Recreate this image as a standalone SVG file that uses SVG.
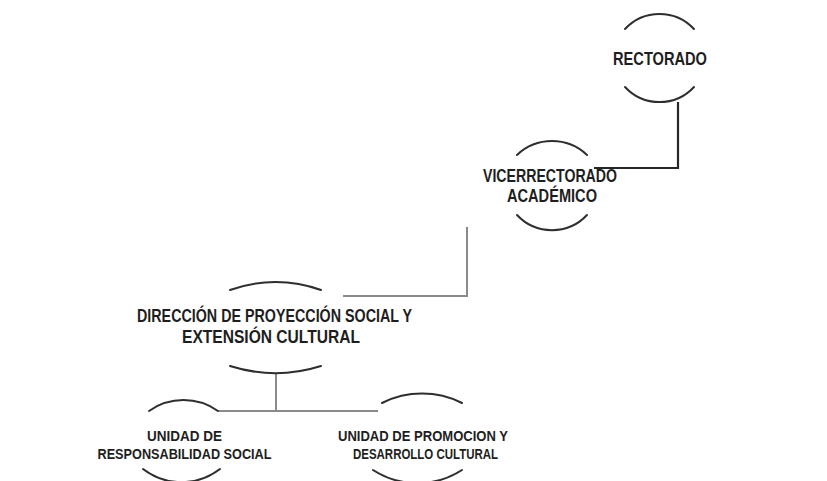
<svg xmlns="http://www.w3.org/2000/svg" width="827" height="481" viewBox="0 0 827 481">
<style>
.arc{fill:none;stroke:#2e2e2e;stroke-width:2;stroke-linecap:round}
.c1{fill:none;stroke:#262626;stroke-width:2.2}
.c2{fill:none;stroke:#8a8a8a;stroke-width:2}
.t{font-family:"Liberation Sans",Arial,sans-serif;font-weight:bold;fill:#1e1e1e;text-anchor:middle}
.big{font-size:17.5px}
.sm{font-size:15px}
</style>
<rect width="827" height="481" fill="#ffffff"/>
<g id="connectors">
<polyline class="c1" points="678,102 678,168 594,168"/>
<polyline class="c2" points="467,227 467,296 343,296"/>
<polyline class="c2" points="276,373 276,411"/>
<line class="c2" x1="218" y1="411" x2="378" y2="411"/>
</g>
<g id="rectorado">
<path class="arc" d="M625 29 A47 47 0 0 1 694 29"/>
<path class="arc" d="M625 87 A47 47 0 0 0 694 87"/>
<text class="t big" x="660" y="65" textLength="94" lengthAdjust="spacingAndGlyphs">RECTORADO</text>
</g>
<g id="vicerrectorado">
<path class="arc" d="M517 155 A51 51 0 0 1 587 155"/>
<path class="arc" d="M517 215 A48 48 0 0 0 587 215"/>
<text class="t big" x="550" y="182" textLength="134" lengthAdjust="spacingAndGlyphs">VICERRECTORADO</text>
<text class="t big" x="552" y="202" textLength="90" lengthAdjust="spacingAndGlyphs">ACADÉMICO</text>
</g>
<g id="direccion">
<path class="arc" d="M230 290 A133 133 0 0 1 321 290"/>
<path class="arc" d="M230 366 A151 151 0 0 0 321 366"/>
<text class="t big" x="274.5" y="322" textLength="275" lengthAdjust="spacingAndGlyphs">DIRECCIÓN DE PROYECCIÓN SOCIAL Y</text>
<text class="t big" x="271" y="343" textLength="178" lengthAdjust="spacingAndGlyphs">EXTENSIÓN CULTURAL</text>
</g>
<g id="responsabilidad">
<path class="arc" d="M149 411 A60 60 0 0 1 218 411"/>
<path class="arc" d="M143 469 A63 63 0 0 0 220 469"/>
<text class="t sm" x="184.5" y="441" textLength="75" lengthAdjust="spacingAndGlyphs">UNIDAD DE</text>
<text class="t sm" x="184.5" y="459" textLength="174" lengthAdjust="spacingAndGlyphs">RESPONSABILIDAD SOCIAL</text>
</g>
<g id="promocion">
<path class="arc" d="M382 403 A90 90 0 0 1 462 403"/>
<path class="arc" d="M373 470 A82 82 0 0 0 462 470"/>
<text class="t sm" x="423" y="441" textLength="170" lengthAdjust="spacingAndGlyphs">UNIDAD DE PROMOCION Y</text>
<text class="t sm" x="425.5" y="459" textLength="145" lengthAdjust="spacingAndGlyphs">DESARROLLO CULTURAL</text>
</g>
</svg>
